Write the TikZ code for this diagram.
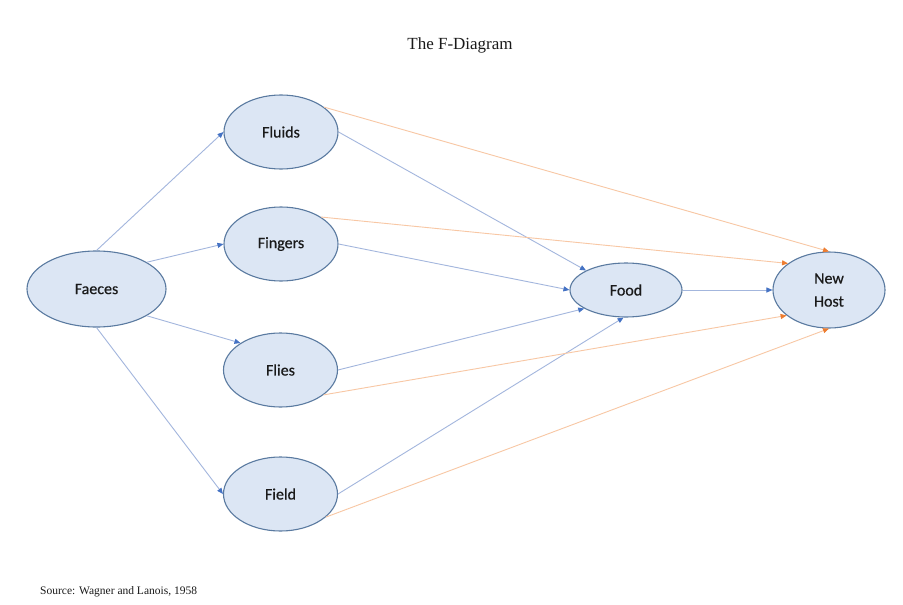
\documentclass[tikz,border=0pt]{standalone}
\usepackage{fontspec}
\setmainfont{Liberation Serif}
\newfontfamily\calib{Carlito}[FakeBold=0.6]
\usetikzlibrary{shapes.geometric,arrows.meta}
\definecolor{efill}{HTML}{DCE6F4}
\definecolor{edraw}{HTML}{5A7AA0}
\definecolor{bline}{HTML}{A3B6DD}
\definecolor{bhead}{HTML}{4472C4}
\definecolor{oline}{HTML}{F8C7A4}
\definecolor{ohead}{HTML}{ED7D31}
\definecolor{txt}{HTML}{1A1A1A}
\begin{document}
\begin{tikzpicture}[x=1pt,y=-1pt,
  ent/.style={ellipse,draw=edraw,fill=efill,line width=1.1pt,inner sep=0pt,
    minimum width=114pt,minimum height=74pt,
    font=\calib\fontsize{16}{23}\selectfont,text=txt,align=center},
  barr/.style={draw=bline,line width=0.9pt,-{Triangle[length=6pt,width=5pt,color=bhead]}},
  oarr/.style={draw=oline,line width=0.9pt,-{Triangle[length=6pt,width=5pt,color=ohead]}}]
\useasboundingbox (0,0) rectangle (903,605);
\fill[white] (0,0) rectangle (903,605);

\node[font=\fontsize{17}{20}\selectfont,text=txt] (title) at (460,45) {The F-Diagram};
\node[font=\fontsize{11.5}{14}\selectfont,text=txt,anchor=west,inner sep=0pt] (src) at (40,592) {Source: Wagner and Lanois, 1958};

\node[ent,minimum width=139pt,minimum height=76pt] (fae) at (96.5,289) {Faeces};
\node[ent] (flu) at (281,132) {Fluids};
\node[ent] (fin) at (281,244) {Fingers};
\node[ent] (fli) at (280.5,370) {Flies};
\node[ent] (fie) at (280.5,494) {Field};
\node[ent,minimum width=112pt,minimum height=54pt] (food) at (626,290) {Food};
\node[ent,minimum width=112pt,minimum height=76pt] (nh) at (829,290) {New\\Host};

% Faeces to F's
\draw[barr] (fae.north) -- (flu.west);
\draw[barr] (fae.28) -- (fin.west);
\draw[barr] (fae.-28) -- (fli.146);
\draw[barr] (fae.south) -- (fie.west);

% F's to Food
\draw[barr] (flu.east) -- (food.154);
\draw[barr] (fin.east) -- (food.west);
\draw[barr] (fli.east) -- (food.204);
\draw[barr] (fie.east) -- (food.265);

% F's to New Host
\draw[oarr] (flu.30) -- (nh.north);
\draw[oarr] (fin.34) -- (nh.147);
\draw[oarr] (fli.-30) -- (nh.211);
\draw[oarr] (fie.-27) -- (nh.south);

% Food to New Host
\draw[barr] (food.east) -- (nh.west);
\end{tikzpicture}
\end{document}
